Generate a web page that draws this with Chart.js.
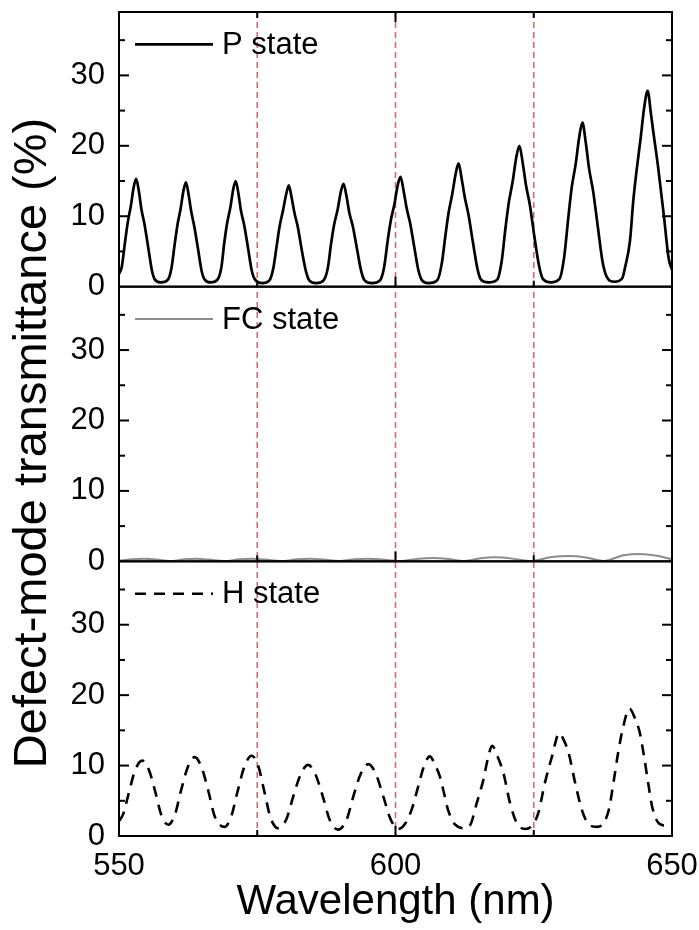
<!DOCTYPE html>
<html>
<head>
<meta charset="utf-8">
<script src="https://cdn.jsdelivr.net/npm/chart.js@4.4.1/dist/chart.umd.min.js"></script>
<style>
  html, body { margin: 0; padding: 0; background: #fff; }
  #wrap { width: 699px; height: 930px; position: relative; }
</style>
</head>
<body>
<div id="wrap"><canvas id="chart"></canvas></div>
<script>
// P state (top panel)
const pWave = [550.0, 550.5, 551.1, 551.6, 552.15, 552.65, 553.1, 553.6, 554.05, 554.6, 555.3, 555.95, 556.5, 557.6,
  558.85, 559.5, 560.1, 560.6, 561.15, 561.65, 562.1, 562.6, 563.05, 563.6, 564.3, 564.95, 565.5, 566.6,
  567.8, 568.5, 569.05, 569.55, 570.15, 570.65, 571.1, 571.6, 572.05, 572.65, 573.35, 574.0, 574.6, 575.9,
  577.2, 577.9, 578.55, 579.05, 579.65, 580.25, 580.7, 581.2, 581.75, 582.35, 583.05, 583.8, 584.4, 585.65,
  587.0, 587.75, 588.35, 588.9, 589.55, 590.1, 590.6, 591.15, 591.65, 592.3, 593.05, 593.8, 594.4, 595.75,
  597.2, 597.95, 598.6, 599.15, 599.8, 600.4, 600.9, 601.45, 602.0, 602.65, 603.4, 604.15, 604.8, 606.0,
  607.55, 608.35, 609.05, 609.6, 610.25, 610.9, 611.4, 611.95, 612.55, 613.2, 614.0, 614.8, 615.45, 616.8,
  618.4, 619.2, 619.9, 620.5, 621.2, 621.85, 622.4, 623.0, 623.6, 624.3, 625.1, 625.95, 626.65, 628.1,
  629.65, 630.5, 631.25, 631.85, 632.6, 633.25, 633.8, 634.4, 635.0, 635.75, 636.6, 637.45, 638.2, 639.6,
  641.0, 641.5, 642.4, 643.0, 643.6, 644.3, 645.0, 645.6, 646.2, 646.6, 647.5, 648.5, 649.4, 650.0];
const pTrans = [1.8, 2.8, 6.4, 9.2, 11.5, 14.1, 15.3, 13.5, 11.0, 8.9, 5.5, 2.3, 1.0, 0.6,
  1.0, 2.7, 6.2, 8.9, 11.1, 13.6, 14.8, 13.0, 10.7, 8.6, 5.3, 2.2, 1.0, 0.6,
  1.0, 2.7, 6.3, 9.0, 11.3, 13.8, 15.0, 13.2, 10.8, 8.7, 5.4, 2.3, 1.0, 0.5,
  0.9, 2.6, 6.0, 8.6, 10.8, 13.2, 14.4, 12.7, 10.4, 8.4, 5.2, 2.2, 0.9, 0.5,
  0.9, 2.6, 6.1, 8.8, 11.0, 13.4, 14.6, 12.8, 10.5, 8.5, 5.3, 2.2, 0.9, 0.5,
  0.9, 2.8, 6.6, 9.4, 11.7, 14.4, 15.6, 13.7, 11.2, 9.0, 5.6, 2.3, 0.9, 0.5,
  0.9, 3.2, 7.4, 10.5, 13.1, 16.1, 17.5, 15.4, 12.6, 10.2, 6.3, 2.6, 1.0, 0.6,
  1.0, 3.6, 8.4, 12.0, 15.0, 18.4, 20.0, 17.6, 14.4, 11.6, 7.2, 3.0, 1.1, 0.6,
  1.1, 4.2, 9.8, 14.0, 17.5, 21.4, 23.3, 20.5, 16.8, 13.5, 8.4, 3.5, 1.4, 0.7,
  1.2, 2.7, 6.5, 12.2, 16.5, 20.9, 25.6, 27.8, 24.5, 22.1, 16.9, 10.3, 4.0, 2.4];

// FC state (middle panel)
const fcWave = [550, 552.5, 554.5, 556.8, 559.2, 561.8, 564, 566.2, 569, 571.8, 574, 576.4, 579.2,
  582.2, 584.5, 587, 589.8, 592.6, 595, 597.6, 600.8, 604.2, 606.8, 609.5, 612.5,
  615.4, 618, 620.8, 624.2, 628.2, 631.3, 634.4, 637.6, 641.2, 644.3, 647.2, 650];
const fcTrans = [0.1, 0.28, 0.35, 0.25, 0.05, 0.28, 0.35, 0.25, 0.05, 0.28, 0.35, 0.25, 0.05,
  0.28, 0.35, 0.25, 0.05, 0.28, 0.37, 0.26, 0.05, 0.38, 0.47, 0.34, 0.05,
  0.45, 0.57, 0.42, 0.05, 0.6, 0.75, 0.55, 0.06, 0.85, 1.05, 0.8, 0.3];

// H state (bottom panel)
const hWave = [550.0, 550.75, 551.8, 552.95, 554.2, 555.45, 556.6, 557.65, 558.9,
  560.1, 561.2, 562.45, 563.7, 564.95, 566.2, 567.3, 569.1,
  570.3, 571.45, 572.7, 574.0, 575.2, 576.3, 577.4, 578.8,
  580.3, 581.5, 582.85, 584.2, 585.55, 586.9, 588.1, 589.6,
  591.15, 592.35, 593.7, 595.1, 596.45, 597.8, 599.1, 600.5,
  601.8, 602.9, 604.1, 605.1, 606.2, 607.2, 608.0, 608.8, 609.5, 610.8, 612.6,
  613.6, 614.7, 615.9, 616.7, 617.5, 618.4, 619.5, 620.7, 621.9, 623.4,
  624.6, 625.8, 627.0, 628.3, 629.6, 630.5, 631.3, 632.5, 633.7, 634.9, 636.4,
  637.6, 638.6, 639.4, 640.3, 641.2, 642.3, 643.4, 644.2, 644.9, 645.7, 646.4, 647.4, 648.6, 650.0];
const hTrans = [2.1, 3.1, 6.2, 9.4, 10.7, 9.3, 6.15, 3.0, 1.6,
  3.0, 6.4, 9.8, 11.2, 9.7, 6.25, 2.8, 1.3,
  2.8, 6.35, 9.9, 11.4, 9.9, 6.25, 2.6, 1.1,
  2.45, 5.6, 8.75, 10.1, 8.7, 5.5, 2.3, 0.9,
  2.3, 5.55, 8.8, 10.2, 8.8, 5.6, 2.4, 1.0,
  1.8, 3.7, 7.0, 9.8, 11.3, 10.0, 8.5, 6.0, 3.7, 1.6, 1.1,
  1.7, 4.7, 8.0, 11.0, 12.8, 11.4, 9.0, 4.7, 1.9, 1.0,
  1.4, 3.2, 7.5, 11.3, 14.6, 13.5, 11.8, 7.5, 3.7, 1.7, 1.3,
  1.8, 3.8, 7.5, 12.0, 15.6, 18.1, 16.5, 14.6, 11.5, 7.5, 4.2, 2.0, 1.5, 1.9];

const xTickLabels = [550, 600, 650];
const xMinorTicks = [575, 625];
const yTickLabels = [0, 10, 20, 30];
const markerLines = [575, 600, 625];
const panelAxes = ['yP', 'yFC', 'yH'];
const legendLabels = ['P state', 'FC state', 'H state'];
const yTitle = 'Defect-mode transmittance (%)';
const xTitle = 'Wavelength (nm)';

const FONT = '"Liberation Sans", Arial, sans-serif';

const toPoints = (xs, ys) => xs.map((x, i) => ({ x: x, y: ys[i] }));

const lineStyles = [
  { color: '#000000', width: 2.7, dash: [] },
  { color: '#8c8c8c', width: 2, dash: [] },
  { color: '#000000', width: 2.6, dash: [11, 8] }
];

function yScale(weight) {
  return {
    type: 'linear',
    position: 'left',
    stack: 'panels',
    stackWeight: 1,
    weight: weight,
    min: 0,
    max: 39,
    grid: { display: false, drawTicks: false },
    border: { display: false },
    ticks: {
      stepSize: 10,
      includeBounds: false,
      padding: 14,
      color: '#000',
      font: { family: FONT, size: 31 },
      callback: v => yTickLabels.includes(v) ? String(v) : null
    },
    afterFit: s => { s.width = 119; s.paddingTop = 0; s.paddingBottom = 0; }
  };
}

function stroke(ctx, x1, y1, x2, y2) {
  ctx.beginPath();
  ctx.moveTo(x1, y1);
  ctx.lineTo(x2, y2);
  ctx.stroke();
}

const panelDecor = {
  id: 'panelDecor',
  beforeDatasetsDraw(chart) {
    const ctx = chart.ctx, x = chart.scales.x, area = chart.chartArea;
    ctx.save();
    ctx.strokeStyle = '#d46a6a';
    ctx.lineWidth = 1.6;
    ctx.setLineDash([6, 4]);
    markerLines.forEach(v => {
      const px = x.getPixelForValue(v);
      stroke(ctx, px, area.top, px, area.bottom);
    });
    ctx.restore();
  },
  afterDatasetsDraw(chart) {
    const ctx = chart.ctx, x = chart.scales.x;
    ctx.save();
    ctx.strokeStyle = '#000';
    ctx.lineWidth = 2;
    panelAxes.forEach((id, i) => {
      const y = chart.scales[id];
      ctx.strokeRect(x.left, y.top, x.right - x.left, y.bottom - y.top);
      for (let v = 5; v < 39; v += 5) {
        const py = y.getPixelForValue(v);
        const len = v % 10 === 0 ? 10 : 6;
        stroke(ctx, x.left, py, x.left + len, py);
        stroke(ctx, x.right, py, x.right - len, py);
      }
      xTickLabels.concat(xMinorTicks).forEach(v => {
        const px = x.getPixelForValue(v);
        const len = xTickLabels.includes(v) ? 10 : 6;
        stroke(ctx, px, y.bottom, px, y.bottom - len);
        if (i === 0) stroke(ctx, px, y.top, px, y.top + len);
      });

      // legend
      const ly = y.getPixelForValue(34.4);
      const st = lineStyles[i];
      ctx.save();
      ctx.strokeStyle = st.color;
      ctx.lineWidth = st.width;
      ctx.setLineDash(st.dash);
      stroke(ctx, x.left + 16, ly, x.left + 94, ly);
      ctx.restore();
      ctx.fillStyle = '#000';
      ctx.font = '31px ' + FONT;
      ctx.textAlign = 'left';
      ctx.textBaseline = 'middle';
      ctx.fillText(legendLabels[i], x.left + 103, ly + 1);
    });
    ctx.restore();
  },
  afterDraw(chart) {
    const ctx = chart.ctx, area = chart.chartArea;
    ctx.save();
    ctx.translate(33, (area.top + area.bottom) / 2 + 19);
    ctx.rotate(-Math.PI / 2);
    ctx.fillStyle = '#000';
    ctx.font = '47px ' + FONT;
    ctx.textAlign = 'center';
    ctx.textBaseline = 'middle';
    ctx.fillText(yTitle, 0, 0);
    ctx.restore();
  }
};

new Chart(document.getElementById('chart'), {
  type: 'line',
  data: {
    datasets: [
      { label: legendLabels[0], data: toPoints(pWave, pTrans), yAxisID: 'yP' },
      { label: legendLabels[1], data: toPoints(fcWave, fcTrans), yAxisID: 'yFC' },
      { label: legendLabels[2], data: toPoints(hWave, hTrans), yAxisID: 'yH' }
    ].map((d, i) => Object.assign(d, {
      borderColor: lineStyles[i].color,
      borderWidth: lineStyles[i].width,
      borderDash: lineStyles[i].dash,
      pointRadius: 0,
      fill: false,
      tension: 0.4,
      cubicInterpolationMode: 'monotone'
    }))
  },
  options: {
    responsive: true,
    maintainAspectRatio: false,
    animation: false,
    devicePixelRatio: 1,
    layout: { padding: { top: 12, right: 27, bottom: 0, left: 0 } },
    plugins: { legend: { display: false }, tooltip: { enabled: false } },
    scales: {
      x: {
        type: 'linear',
        position: 'bottom',
        min: 550,
        max: 650,
        grid: { display: false, drawTicks: false },
        border: { display: false },
        ticks: {
          stepSize: 50,
          padding: 12,
          maxRotation: 0,
          color: '#000',
          font: { family: FONT, size: 31 },
          callback: v => xTickLabels.includes(v) ? String(v) : null
        },
        title: {
          display: true,
          text: xTitle,
          color: '#000',
          font: { family: FONT, size: 42 },
          padding: { top: 0, bottom: 2 }
        },
        afterFit: s => { s.height = 94; s.paddingLeft = 0; s.paddingRight = 0; }
      },
      yP: yScale(3),
      yFC: yScale(2),
      yH: yScale(1)
    }
  },
  plugins: [panelDecor]
});
</script>
</body>
</html>
